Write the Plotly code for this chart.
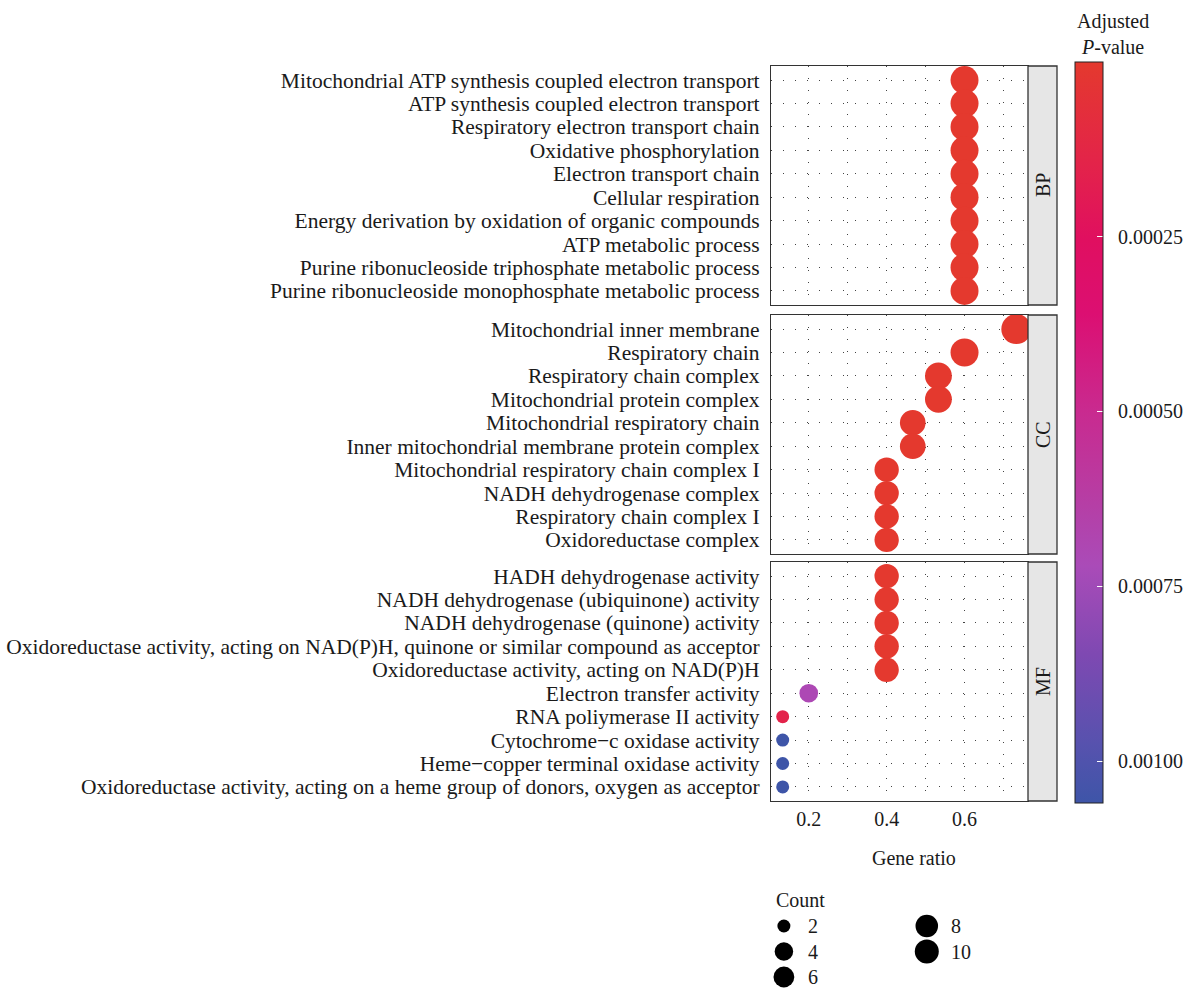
import numpy as np
import plotly.graph_objects as go

# ---------------- data ----------------
bp_terms = [
    "Mitochondrial ATP synthesis coupled electron transport",
    "ATP synthesis coupled electron transport",
    "Respiratory electron transport chain",
    "Oxidative phosphorylation",
    "Electron transport chain",
    "Cellular respiration",
    "Energy derivation by oxidation of organic compounds",
    "ATP metabolic process",
    "Purine ribonucleoside triphosphate metabolic process",
    "Purine ribonucleoside monophosphate metabolic process",
]
bp_ratio = [0.6, 0.6, 0.6, 0.6, 0.6, 0.6, 0.6, 0.6, 0.6, 0.6]
bp_count = [9, 9, 9, 9, 9, 9, 9, 9, 9, 9]
bp_padj = [1e-7, 1e-7, 1e-7, 1e-7, 1e-7, 1e-7, 1e-7, 1e-7, 1e-7, 1e-7]

cc_terms = [
    "Mitochondrial inner membrane",
    "Respiratory chain",
    "Respiratory chain complex",
    "Mitochondrial protein complex",
    "Mitochondrial respiratory chain",
    "Inner mitochondrial membrane protein complex",
    "Mitochondrial respiratory chain complex I",
    "NADH dehydrogenase complex",
    "Respiratory chain complex I",
    "Oxidoreductase complex",
]
cc_ratio = [0.733, 0.6, 0.533, 0.533, 0.467, 0.467, 0.4, 0.4, 0.4, 0.4]
cc_count = [11, 9, 8, 8, 7, 7, 6, 6, 6, 6]
cc_padj = [1e-7, 1e-7, 2e-7, 2e-7, 1e-6, 1e-6, 2e-6, 2e-6, 2e-6, 2e-6]

mf_terms = [
    "HADH dehydrogenase activity",
    "NADH dehydrogenase (ubiquinone) activity",
    "NADH dehydrogenase (quinone) activity",
    "Oxidoreductase activity, acting on NAD(P)H, quinone or similar compound as acceptor",
    "Oxidoreductase activity, acting on NAD(P)H",
    "Electron transfer activity",
    "RNA poliymerase II activity",
    "Cytochrome\u2212c oxidase activity",
    "Heme\u2212copper terminal oxidase activity",
    "Oxidoreductase activity, acting on a heme group of donors, oxygen as acceptor",
]
mf_ratio = [0.4, 0.4, 0.4, 0.4, 0.4, 0.2, 0.133, 0.133, 0.133, 0.133]
mf_count = [6, 6, 6, 6, 6, 3, 2, 2, 2, 2]
mf_padj = [3e-6, 3e-6, 3e-6, 3e-6, 3e-6, 0.00070, 0.00015, 0.00106, 0.00106, 0.00106]

panel_names = ["BP", "CC", "MF"]
cbar_ticks = [0.00025, 0.00050, 0.00075, 0.00100]
cbar_ticktext = ["0.00025", "0.00050", "0.00075", "0.00100"]
x_ticks = [0.2, 0.4, 0.6]
legend_counts = [2, 4, 6, 8, 10]

# ---------------- styling ----------------
FONT = "Liberation Serif"
TXT = "#1a1a1a"
W, H = 1185, 989
PX_L, PX_R = 771, 1028
STRIP_R = 1057
FS_Y = 21.5
FS = 20


def fx(px):
    return (px - PX_L) / (PX_R - PX_L)


def fy(py):
    return 1 - py / H


panel_px = [(66, 305), (315, 554), (562, 801)]

all_ratio = bp_ratio + cc_ratio + mf_ratio
all_count = bp_count + cc_count + mf_count
all_padj = bp_padj + cc_padj + mf_padj
cmin_c, cmax_c = min(all_count), max(all_count)
pmin, pmax = min(all_padj), max(all_padj)
xr_lo, xr_hi = min(all_ratio), max(all_ratio)
xpad = 0.05 * (xr_hi - xr_lo)
x_range = [xr_lo - xpad, xr_hi + xpad]


def size_of(c):
    return 13 + 17 * np.sqrt((np.asarray(c) - cmin_c) / (cmax_c - cmin_c))


# colour stops: fraction of p range (0 = smallest p, top, red)
stops = [
    (0.00, "#E4392E"), (0.14, "#E3234A"), (0.24, "#E00F60"), (0.34, "#DC0F72"),
    (0.47, "#C92A8F"), (0.60, "#B53FA6"), (0.68, "#AA4BB8"), (0.80, "#7E49B2"),
    (0.92, "#5752AE"), (1.00, "#3E55A8"),
]
colorscale = sorted([(1 - t, c) for t, c in stops])

fig = go.Figure()

panels = [
    (bp_terms, bp_ratio, bp_count, bp_padj),
    (cc_terms, cc_ratio, cc_count, cc_padj),
    (mf_terms, mf_ratio, mf_count, mf_padj),
]

dot = "1px,11px"
grid_col = "#444444"

for i, (terms, ratio, count, padj) in enumerate(panels):
    ax = "" if i == 0 else str(i + 1)
    marker = dict(
        size=size_of(count),
        color=[-p for p in padj],
        colorscale=colorscale,
        cmin=-pmax,
        cmax=-pmin,
        line=dict(width=0),
        opacity=1,
        showscale=(i == 0),
    )
    if i == 0:
        marker["colorbar"] = dict(
            thickness=28, thicknessmode="pixels",
            len=741, lenmode="pixels",
            x=fx(1075), xanchor="left", xpad=0,
            y=fy(62), yanchor="top", ypad=0,
            outlinewidth=1, outlinecolor="#222222",
            tickmode="array",
            tickvals=[-v for v in cbar_ticks],
            ticktext=["  " + t for t in cbar_ticktext],
            ticks="inside", ticklen=6, tickcolor="white", tickwidth=1,
            tickfont=dict(family=FONT, size=FS, color=TXT),
        )
    fig.add_trace(go.Scatter(
        x=ratio, y=terms, mode="markers", marker=marker,
        xaxis="x" + ax, yaxis="y" + ax, showlegend=False, cliponaxis=False,
        hovertemplate="%{y}<br>Gene ratio %{x}<extra></extra>",
    ))
    top, bot = panel_px[i]
    fig.update_layout(**{
        "xaxis" + ax: dict(
            domain=[0, 1], range=x_range, anchor="y" + ax,
            tickmode="array", tickvals=x_ticks,
            ticktext=[f"{v:.1f}" for v in x_ticks],
            showticklabels=(i == 2), ticks="",
            tickfont=dict(family=FONT, size=FS, color=TXT),
            showgrid=True, gridcolor=grid_col, gridwidth=1, griddash=dot,
            minor=dict(tickmode="linear", tick0=0, dtick=0.1, showgrid=True,
                       gridcolor=grid_col, gridwidth=1, griddash=dot),
            showline=True, mirror=True, linecolor="#333333", linewidth=1.3,
            zeroline=False, matches=None if i == 0 else "x",
        ),
        "yaxis" + ax: dict(
            domain=[fy(bot), fy(top)], anchor="x" + ax,
            type="category", categoryorder="array", categoryarray=terms,
            tickmode="array", tickvals=terms, ticktext=terms,
            range=[len(terms) - 0.4, -0.6],
            tickfont=dict(family=FONT, size=FS_Y, color=TXT),
            ticks="", ticklabelstandoff=6, automargin=False,
            showgrid=True, gridcolor=grid_col, gridwidth=1, griddash=dot,
            showline=True, mirror=True, linecolor="#333333", linewidth=1.3,
            zeroline=False,
        ),
    })
    # facet strip
    fig.add_shape(type="rect", xref="paper", yref="paper",
                  x0=1, x1=fx(STRIP_R), y0=fy(bot), y1=fy(top),
                  fillcolor="#E6E6E6", line=dict(color="#333333", width=1.3),
                  layer="above")
    fig.add_annotation(xref="paper", yref="paper",
                       x=(1 + fx(STRIP_R)) / 2, y=(fy(bot) + fy(top)) / 2,
                       xanchor="center", yanchor="middle",
                       text=panel_names[i], textangle=-90, showarrow=False,
                       font=dict(family=FONT, size=FS, color=TXT))

# left-side white ticks on the colour bar
for v in cbar_ticks:
    ypx = 62 + (v - pmin) / (pmax - pmin) * 741
    fig.add_shape(type="line", xref="paper", yref="paper",
                  x0=fx(1076), x1=fx(1082), y0=fy(ypx), y1=fy(ypx),
                  line=dict(color="white", width=1), layer="above")

# colour bar title
fig.add_annotation(xref="paper", yref="paper", x=fx(1113), y=fy(34),
                   text="Adjusted<br><i>P</i>-value", showarrow=False,
                   align="center", xanchor="center", yanchor="middle",
                   font=dict(family=FONT, size=FS, color=TXT))

# x axis title
fig.add_annotation(xref="paper", yref="paper", x=fx((PX_L + STRIP_R) / 2), y=fy(858),
                   xanchor="center", yanchor="middle",
                   text="Gene ratio", showarrow=False,
                   font=dict(family=FONT, size=FS, color=TXT))

# ---------------- size legend (own small axis, pixel units) ----------------
lg_x, lg_y = [], []
for k, c in enumerate(legend_counts):
    col, row = divmod(k, 3)
    lg_x.append(782 + col * 144)
    lg_y.append(926 + row * 25.5)
leg_size = 13 + 11 * np.sqrt((np.array(legend_counts) - 2) / 8)
fig.add_trace(go.Scatter(
    x=lg_x, y=lg_y, mode="markers",
    marker=dict(size=leg_size, color="#000000", opacity=1, line=dict(width=0)),
    xaxis="x4", yaxis="y4", showlegend=False, hoverinfo="skip", cliponaxis=False,
))
for xx, yy, c in zip(lg_x, lg_y, legend_counts):
    fig.add_annotation(xref="x4", yref="y4", x=xx + 22, y=yy, text=str(c),
                       showarrow=False, xanchor="left", yanchor="middle",
                       font=dict(family=FONT, size=FS, color=TXT))
fig.add_annotation(xref="x4", yref="y4", x=772, y=900, text="Count",
                   showarrow=False, xanchor="left", yanchor="middle",
                   font=dict(family=FONT, size=FS, color=TXT))
fig.update_layout(
    xaxis4=dict(domain=[0, 1], range=[PX_L - 2, PX_R], visible=False, anchor="y4",
                fixedrange=True),
    yaxis4=dict(domain=[0, fy(882)], range=[H, 882], visible=False, anchor="x4",
                fixedrange=True),
)

fig.update_layout(
    width=W, height=H,
    margin=dict(l=PX_L, r=W - PX_R, t=0, b=0, autoexpand=False),
    paper_bgcolor="white", plot_bgcolor="white",
    font=dict(family=FONT, color=TXT),
    showlegend=False,
)

fig.write_html(
    "out.html",
    config={"displayModeBar": False},
    post_script="document.body.style.margin='0';document.body.style.overflow='hidden';",
)
